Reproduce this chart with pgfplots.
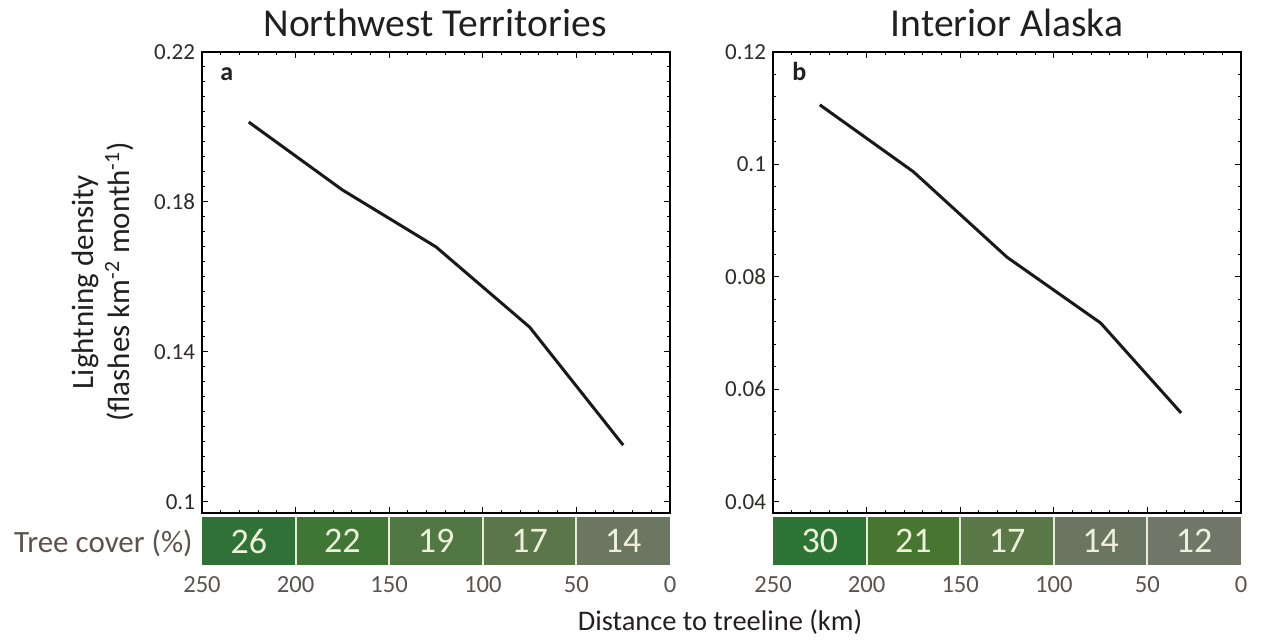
\documentclass[border=0pt]{standalone}
\usepackage{pgfplots}
\pgfplotsset{compat=1.18}
\usepackage{fontspec}
\setmainfont{Carlito}
\definecolor{tickgray}{HTML}{2E2B2A}
\definecolor{labgray}{HTML}{5C5350}
\definecolor{titlecol}{HTML}{231F20}
\definecolor{cream}{HTML}{EEF1DA}
\definecolor{sep}{HTML}{E6ECD6}
\definecolor{la}{HTML}{2F7136}
\definecolor{lb}{HTML}{3F7535}
\definecolor{lc}{HTML}{517842}
\definecolor{ld}{HTML}{5B7649}
\definecolor{le}{HTML}{6C7762}
\definecolor{ra}{HTML}{2C7536}
\definecolor{rb}{HTML}{46762F}
\definecolor{rc}{HTML}{5B7849}
\definecolor{rd}{HTML}{6A7661}
\definecolor{re}{HTML}{727669}
\tikzset{barnum/.style={font=\fontsize{18}{20}\selectfont, text=cream}}
\pgfplotsset{
  mainax/.style={scale only axis, width=234pt, height=230.5pt, anchor=south west,
    x dir=reverse, xmin=0, xmax=250, xtick={0,50,100,150,200,250}, xticklabels={},
    minor x tick num=4, tick align=inside, xtick pos=both, ytick pos=both,
    major tick length=2.8pt, minor tick length=1.6pt,
    axis line style={line width=0.6pt, black},
    tick style={black, line width=0.5pt},
    yticklabel style={font=\fontsize{11.5}{13}\selectfont, text=tickgray},
    /pgf/number format/assume math mode=true,
    /pgf/number format/fixed, /pgf/number format/precision=2},
  barax/.style={scale only axis, width=234pt, height=24pt, anchor=south west,
    x dir=reverse, xmin=0, xmax=250, ymin=0, ymax=1,
    xtick={0,50,100,150,200,250}, ytick=\empty,
    axis line style={draw=none}, major tick length=0pt,
    xticklabel style={font=\fontsize{12.3}{14}\selectfont, text=labgray, yshift=-2pt},
    /pgf/number format/assume math mode=true}
}
\begin{document}
\begin{tikzpicture}
\path (0,0) rectangle (630.5pt,321.5pt);
% left panel
\begin{axis}[mainax, at={(101pt,65pt)}, ymin=0.097, ymax=0.22,
  ytick={0.1,0.14,0.18,0.22}, minor y tick num=9]
\addplot[line width=1.5pt, color=black!90] coordinates {(225,0.2013) (175,0.1832) (125,0.168) (75,0.1466) (25,0.1151)};
\end{axis}
\begin{axis}[barax, at={(101pt,39pt)}]
\addplot[fill=la, draw=none] coordinates {(250,1) (200,1)} \closedcycle;
\addplot[fill=lb, draw=none] coordinates {(200,1) (150,1)} \closedcycle;
\addplot[fill=lc, draw=none] coordinates {(150,1) (100,1)} \closedcycle;
\addplot[fill=ld, draw=none] coordinates {(100,1) (50,1)} \closedcycle;
\addplot[fill=le, draw=none] coordinates {(50,1) (0,1)} \closedcycle;
\addplot[sep, line width=1pt] coordinates {(200,0) (200,1)};
\addplot[sep, line width=1pt] coordinates {(150,0) (150,1)};
\addplot[sep, line width=1pt] coordinates {(100,0) (100,1)};
\addplot[sep, line width=1pt] coordinates {(50,0) (50,1)};
\node[barnum] at (axis cs:225,0.5) {26};
\node[barnum] at (axis cs:175,0.5) {22};
\node[barnum] at (axis cs:125,0.5) {19};
\node[barnum] at (axis cs:75,0.5) {17};
\node[barnum] at (axis cs:25,0.5) {14};
\end{axis}
% right panel
\begin{axis}[mainax, at={(386.5pt,65pt)}, ymin=0.038, ymax=0.12,
  ytick={0.04,0.06,0.08,0.1,0.12}, minor y tick num=4]
\addplot[line width=1.5pt, color=black!90] coordinates {(225,0.1106) (175,0.0987) (125,0.0835) (75,0.0718) (32,0.0558)};
\end{axis}
\begin{axis}[barax, at={(386.5pt,39pt)}]
\addplot[fill=ra, draw=none] coordinates {(250,1) (200,1)} \closedcycle;
\addplot[fill=rb, draw=none] coordinates {(200,1) (150,1)} \closedcycle;
\addplot[fill=rc, draw=none] coordinates {(150,1) (100,1)} \closedcycle;
\addplot[fill=rd, draw=none] coordinates {(100,1) (50,1)} \closedcycle;
\addplot[fill=re, draw=none] coordinates {(50,1) (0,1)} \closedcycle;
\addplot[sep, line width=1pt] coordinates {(200,0) (200,1)};
\addplot[sep, line width=1pt] coordinates {(150,0) (150,1)};
\addplot[sep, line width=1pt] coordinates {(100,0) (100,1)};
\addplot[sep, line width=1pt] coordinates {(50,0) (50,1)};
\node[barnum] at (axis cs:225,0.5) {30};
\node[barnum] at (axis cs:175,0.5) {21};
\node[barnum] at (axis cs:125,0.5) {17};
\node[barnum] at (axis cs:75,0.5) {14};
\node[barnum] at (axis cs:25,0.5) {12};
\end{axis}
% texts
\node[anchor=base, font=\fontsize{19.8}{23}\selectfont, text=titlecol] at (217.5pt,303pt) {Northwest Territories};
\node[anchor=base, font=\fontsize{19.8}{23}\selectfont, text=titlecol] at (503.5pt,303pt) {Interior Alaska};
\node[anchor=base west, font=\bfseries\fontsize{13}{15}\selectfont, text=titlecol, inner sep=0pt] at (110pt,281pt) {a};
\node[anchor=base west, font=\bfseries\fontsize{13}{15}\selectfont, text=titlecol, inner sep=0pt] at (396pt,281pt) {b};
\node[anchor=base east, font=\fontsize{15.5}{18}\selectfont, text=labgray, inner sep=0pt] at (96.5pt,45.5pt) {Tree cover (\%)};
\node[anchor=base, font=\fontsize{14.2}{16}\selectfont, text=titlecol, inner sep=0pt] at (360pt,6.5pt) {Distance to treeline (km)};
\node[rotate=90, align=center, font=\fontsize{15.5}{18}\selectfont, text=titlecol] at (51.5pt,180.5pt) {Lightning density\\(flashes km\textsuperscript{-2} month\textsuperscript{-1})};
\end{tikzpicture}
\end{document}
